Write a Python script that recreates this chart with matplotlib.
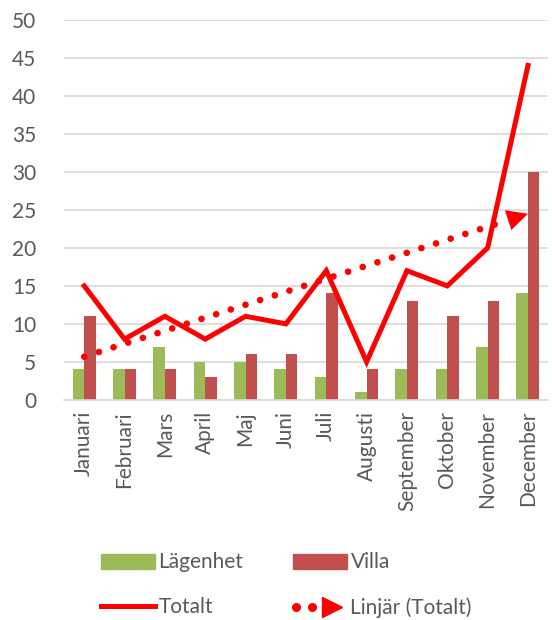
import numpy as np
import matplotlib
matplotlib.use("Agg")
import matplotlib.pyplot as plt
from matplotlib.lines import Line2D
from matplotlib.patches import Patch
from matplotlib.legend_handler import HandlerBase

months = ["Januari", "Februari", "Mars", "April", "Maj", "Juni", "Juli",
          "Augusti", "September", "Oktober", "November", "December"]
lagenhet = [4, 4, 7, 5, 5, 4, 3, 1, 4, 4, 7, 14]
villa = [11, 4, 4, 3, 6, 6, 14, 4, 13, 11, 13, 30]
totalt = [15, 8, 11, 8, 11, 10, 17, 5, 17, 15, 20, 44]

GREEN = "#9BBB59"
DARKRED = "#C0504D"
RED = "#FF0000"
GREY = "#595959"
FS = 15

plt.rcParams["font.family"] = ["Lato", "DejaVu Sans"]

fig = plt.figure(figsize=(5.52, 6.2), dpi=100)
ax = fig.add_axes([0.116, 0.355, 0.877, 0.613])

x = np.arange(len(months))
w = 0.285
ax.bar(x - w / 2, lagenhet, w, color=GREEN, zorder=2)
ax.bar(x + w / 2, villa, w, color=DARKRED, zorder=2)
ax.plot(x, totalt, color=RED, lw=3.6, zorder=3, solid_joinstyle="miter")

# linear trend of Totalt
k, m = np.polyfit(x, totalt, 1)
x_end = x[-1] - 0.6
ax.plot([x[0], x_end], [k * x[0] + m, k * x_end + m], color=RED, lw=4.8,
        linestyle=(0, (0.01, 2.3)), dash_capstyle="round", zorder=3)
ax.annotate("", xy=(x[-1], k * x[-1] + m), xytext=(x_end, k * x_end + m),
            arrowprops=dict(arrowstyle="-|>,head_length=1.5,head_width=0.75",
                            color=RED, lw=0, shrinkA=0, shrinkB=0), zorder=3)

ax.set_ylim(0, 50)
ax.set_xlim(-0.5, len(months) - 0.5)
ax.set_yticks(range(0, 51, 5))
ax.set_xticks(x)
ax.set_xticklabels(months, rotation=90)
ax.tick_params(length=0, labelsize=FS, labelcolor=GREY)
ax.tick_params(axis="y", pad=20)
ax.tick_params(axis="x", pad=8)
ax.grid(axis="y", color="#D9D9D9", lw=1.2, zorder=0)
for s in ["top", "right", "left"]:
    ax.spines[s].set_visible(False)
ax.spines["bottom"].set_color("#D9D9D9")
ax.spines["bottom"].set_linewidth(1.2)


class TrendHandler(HandlerBase):
    def create_artists(self, legend, orig, xd, yd, width, height, fontsize, trans):
        y = height / 2 - yd
        dots = Line2D([width * 0.05, width * 0.35], [y, y], ls="",
                      marker="o", ms=5.5, color=RED, transform=trans)
        tri = Line2D([width * 0.72], [y], ls="", marker=">", ms=15,
                     color=RED, transform=trans)
        return [dots, tri]


# column-major fill: Lägenhet / Totalt left, Villa / Linjär right
handles = [Patch(color=GREEN), Line2D([], [], color=RED, lw=3.6),
           Patch(color=DARKRED), object()]
labels = ["Lägenhet", "Totalt", "Villa", "Linjär (Totalt)"]
fig.legend(handles, labels, ncol=2, loc="center left", bbox_to_anchor=(0.183, 0.056),
           frameon=False, fontsize=FS, labelcolor=GREY, handlelength=2.6,
           handleheight=0.75, handletextpad=0.15, columnspacing=2.4,
           labelspacing=1.2, borderpad=0, borderaxespad=0,
           handler_map={object: TrendHandler()})

fig.savefig("out.png", dpi=100)
